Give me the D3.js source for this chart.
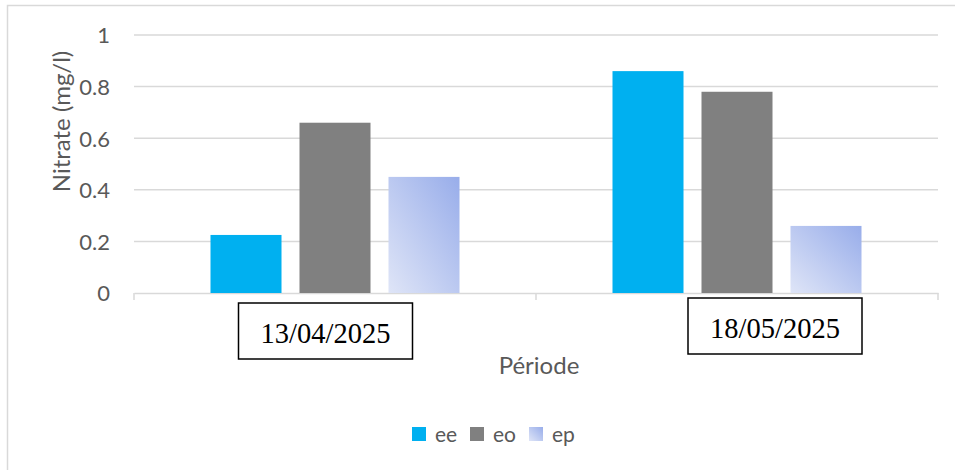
<!DOCTYPE html>
<html>
<head>
<meta charset="utf-8">
<script src="https://cdn.jsdelivr.net/npm/d3@7"></script>
<style>
  html, body { margin: 0; padding: 0; background: #fff; }
  svg { display: block; }
</style>
</head>
<body>
<svg id="chart" width="955" height="470"></svg>
<script>
// Nitrate measurements per sampling date
const categories = ["13/04/2025", "18/05/2025"];
const seriesNames = ["ee", "eo", "ep"];
const ee = [0.225, 0.86];
const eo = [0.66, 0.78];
const ep = [0.45, 0.26];
const yTicks = [0, 0.2, 0.4, 0.6, 0.8, 1];
const yTickLabels = ["0", "0.2", "0.4", "0.6", "0.8", "1"];

const values = { ee, eo, ep };
const W = 955, H = 470;
const plot = { left: 134, right: 938, top: 35, bottom: 293 };
const uiFont = "Lato, 'Open Sans', sans-serif";
const textGray = "#595959";
const gridGray = "#d9d9d9";

const svg = d3.select("#chart");

// gradient fill used by the third series
const defs = svg.append("defs");
const grad = defs.append("linearGradient")
  .attr("id", "epFill")
  .attr("x1", 0).attr("y1", 1).attr("x2", 1).attr("y2", 0);
grad.append("stop").attr("offset", "0%").attr("stop-color", "#dfe5f7");
grad.append("stop").attr("offset", "100%").attr("stop-color", "#98adea");

const fills = { ee: "#00b0f0", eo: "#808080", ep: "url(#epFill)" };

// outer chart frame (only its top/left edges fall inside the view)
svg.append("rect")
  .attr("x", 7.5).attr("y", 5.5)
  .attr("width", W + 20).attr("height", H + 20)
  .attr("fill", "none").attr("stroke", gridGray).attr("stroke-width", 1.5);

const x = d3.scaleBand().domain(categories).range([plot.left, plot.right]).padding(0);
const groupWidth = 249;
const xInner = d3.scaleBand()
  .domain(seriesNames)
  .range([(x.bandwidth() - groupWidth) / 2, (x.bandwidth() + groupWidth) / 2])
  .paddingInner(0.2022)
  .paddingOuter(0);
const y = d3.scaleLinear().domain([0, 1]).range([plot.bottom, plot.top]);

// horizontal gridlines
svg.append("g")
  .selectAll("line")
  .data(yTicks.slice(1))
  .join("line")
  .attr("x1", plot.left).attr("x2", plot.right)
  .attr("y1", d => y(d)).attr("y2", d => y(d))
  .attr("stroke", gridGray).attr("stroke-width", 1.5);

// y axis labels
const yAxis = d3.axisLeft(y)
  .tickValues(yTicks)
  .tickFormat((d, i) => yTickLabels[i])
  .tickSize(0)
  .tickPadding(0);
const yG = svg.append("g").attr("transform", `translate(${110},0)`).call(yAxis);
yG.select(".domain").remove();
yG.selectAll("text")
  .attr("font-family", uiFont)
  .attr("font-size", 22)
  .attr("fill", textGray)
  .attr("dy", "0.36em");

// category axis with tick marks between groups
const xAxis = d3.axisBottom(x).tickValues([]).tickSizeOuter(0);
const xG = svg.append("g").attr("transform", `translate(0,${plot.bottom})`).call(xAxis);
xG.select(".domain").attr("stroke", gridGray).attr("stroke-width", 1.5);
const boundaries = [plot.left, ...categories.map(c => x(c) + x.bandwidth())];
xG.selectAll(".sep")
  .data(boundaries)
  .join("line")
  .attr("class", "sep")
  .attr("x1", d => d).attr("x2", d => d)
  .attr("y1", 0).attr("y2", 7)
  .attr("stroke", gridGray).attr("stroke-width", 1.5);

// bars
const groups = svg.append("g")
  .selectAll("g")
  .data(categories)
  .join("g")
  .attr("transform", c => `translate(${x(c)},0)`);

groups.selectAll("rect")
  .data((c, i) => seriesNames.map(s => ({ s, v: values[s][i] })))
  .join("rect")
  .attr("x", d => xInner(d.s))
  .attr("width", xInner.bandwidth())
  .attr("y", d => y(d.v))
  .attr("height", d => y(0) - y(d.v))
  .attr("fill", d => fills[d.s]);

// boxed date labels under each group
const boxOffsets = [{ dx: -9.5, top: 303 }, { dx: 38, top: 298 }];
const boxW = 174, boxH = 56;
const labels = svg.append("g")
  .selectAll("g")
  .data(categories)
  .join("g")
  .attr("transform", (c, i) =>
    `translate(${x(c) + x.bandwidth() / 2 + boxOffsets[i].dx - boxW / 2},${boxOffsets[i].top})`);
labels.append("rect")
  .attr("width", boxW).attr("height", boxH)
  .attr("fill", "#fff").attr("stroke", "#000").attr("stroke-width", 1.5);
labels.append("text")
  .attr("x", boxW / 2).attr("y", 39.5)
  .attr("text-anchor", "middle")
  .attr("font-family", "'Liberation Serif', 'Times New Roman', serif")
  .attr("font-size", 28.5)
  .attr("fill", "#000")
  .text(d => d);

// axis titles
svg.append("text")
  .attr("x", 539).attr("y", 374)
  .attr("text-anchor", "middle")
  .attr("font-family", uiFont)
  .attr("font-size", 24)
  .attr("fill", textGray)
  .text("Période");

svg.append("text")
  .attr("transform", "translate(70,121.5) rotate(-90)")
  .attr("text-anchor", "middle")
  .attr("font-family", uiFont)
  .attr("font-size", 24)
  .attr("fill", textGray)
  .text("Nitrate (mg/l)");

// legend
const legendX = [412, 470, 529];
const legend = svg.append("g")
  .selectAll("g")
  .data(seriesNames)
  .join("g")
  .attr("transform", (s, i) => `translate(${legendX[i]},427)`);
legend.append("rect")
  .attr("width", 14).attr("height", 14)
  .attr("fill", s => fills[s]);
legend.append("text")
  .attr("x", 23).attr("y", 15)
  .attr("font-family", uiFont)
  .attr("font-size", 21)
  .attr("fill", textGray)
  .text(s => s);
</script>
</body>
</html>
